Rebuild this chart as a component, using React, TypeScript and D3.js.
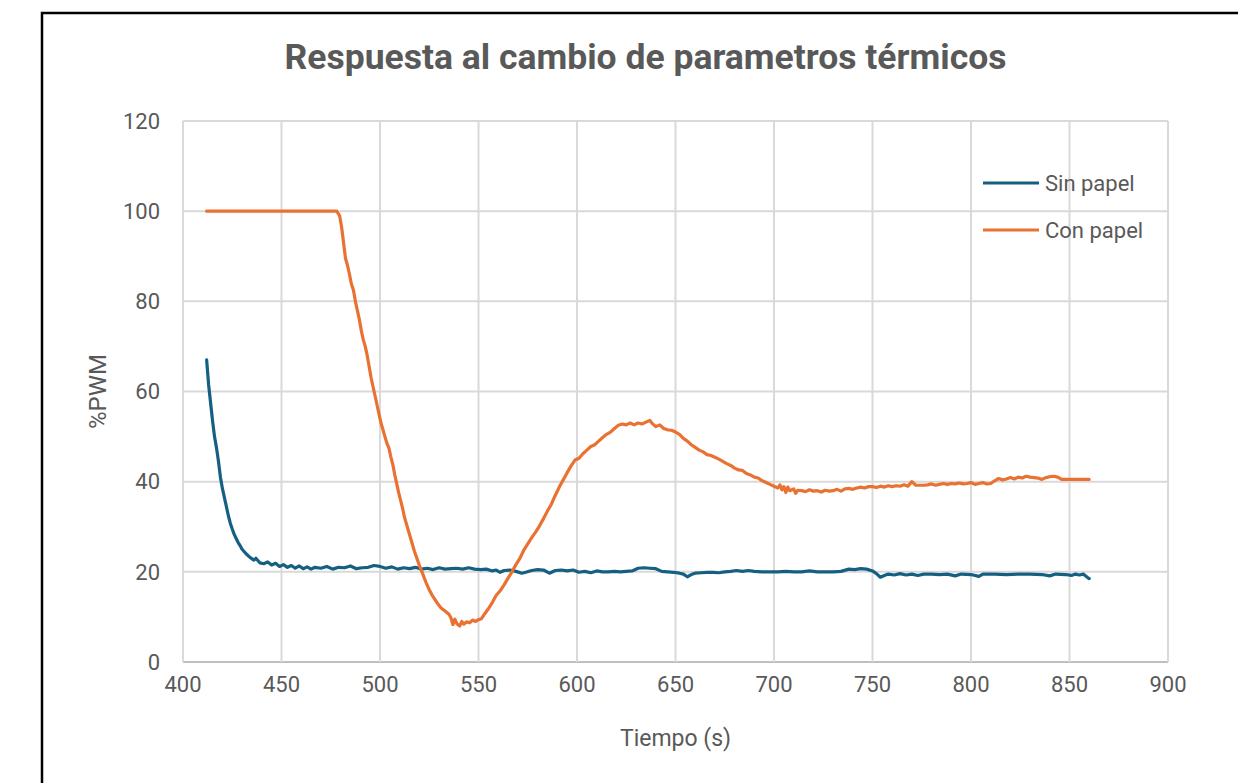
import React from "react";
import * as d3 from "d3";

// Ensayo térmico: %PWM frente al tiempo, sin papel y con papel
const xTicks = [400, 450, 500, 550, 600, 650, 700, 750, 800, 850, 900];
const yTicks = [0, 20, 40, 60, 80, 100, 120];

const sinPapelT = [
  412, 413, 414, 415, 416, 417, 418, 419, 420, 421, 422, 423, 424, 425, 426, 427, 428, 429, 430,
  432, 434, 436, 437, 439, 441, 443, 445, 447, 449, 451, 453, 455, 457, 459, 461, 463, 465, 467,
  470, 473, 476, 479, 482, 485, 488, 491, 494, 497, 500, 503, 506, 509, 512, 515, 518, 521, 524,
  527, 530, 533, 536, 539, 542, 545, 548, 551, 554, 557, 559, 561, 563, 566, 569, 572, 574, 577,
  580, 583, 586, 589, 592, 595, 598, 601, 604, 607, 610, 613, 616, 619, 622, 625, 628, 631, 634,
  637, 640, 643, 646, 649, 652, 654, 656, 658, 660, 663, 666, 669, 672, 675, 678, 681, 684, 687,
  690, 694, 698, 702, 706, 710, 714, 718, 722, 726, 730, 734, 738, 741, 744, 747, 750, 752, 754,
  756, 758, 761, 764, 767, 770, 773, 776, 780, 784, 788, 792, 795, 800, 804, 806, 812, 818, 824,
  830, 836, 840, 843, 848, 851, 853, 855, 857, 859, 860,
];
const sinPapelV = [
  67.0, 61.5, 57.5, 53.5, 50.0, 47.5, 44.5, 41.0, 38.5, 36.5, 34.5, 32.5, 30.8, 29.5, 28.3, 27.4, 26.5, 25.8, 25.0,
  24.0, 23.2, 22.6, 23.0, 22.0, 21.8, 22.2, 21.5, 21.9, 21.2, 21.6, 21.0, 21.4, 20.8, 21.3, 20.7, 21.1, 20.6, 21.0,
  20.8, 21.2, 20.6, 21.0, 20.9, 21.3, 20.7, 20.9, 21.0, 21.4, 21.2, 20.8, 21.1, 20.6, 20.9, 20.7, 21.0, 20.6, 20.8,
  20.5, 20.9, 20.6, 20.7, 20.8, 20.6, 20.9, 20.6, 20.5, 20.6, 20.2, 20.4, 19.9, 20.3, 20.4, 20.1, 19.7, 19.9, 20.3,
  20.5, 20.4, 19.7, 20.3, 20.4, 20.2, 20.4, 19.9, 20.1, 19.8, 20.2, 20.0, 20.0, 20.1, 20.0, 20.1, 20.2, 20.8, 20.9,
  20.8, 20.7, 20.1, 20.0, 19.9, 19.7, 19.5, 18.9, 19.4, 19.7, 19.8, 19.9, 19.9, 19.8, 20.0, 20.1, 20.3, 20.1, 20.3,
  20.1, 20.0, 20.0, 20.0, 20.1, 20.0, 20.0, 20.2, 20.0, 20.0, 20.0, 20.1, 20.6, 20.5, 20.7, 20.6, 20.2, 19.6, 18.8,
  19.2, 19.5, 19.3, 19.6, 19.3, 19.5, 19.2, 19.5, 19.5, 19.4, 19.5, 19.1, 19.5, 19.4, 19.0, 19.5, 19.5, 19.4, 19.5,
  19.5, 19.4, 19.1, 19.5, 19.4, 19.2, 19.5, 19.3, 19.5, 18.8, 18.5,
];

const conPapelT = [
  412, 420, 430, 440, 450, 460, 470, 478, 479.5, 480.5, 481.5, 482.5, 483.5, 484.5, 485.5, 486.5, 487.5,
  488.5, 489.5, 490.5, 491.5, 492.5, 493.5, 494.5, 495.5, 496.5, 497.5, 498.5, 499.5, 500.5, 501.5, 502.5,
  503.5, 504.5, 505.5, 506.5, 507.5, 508.5, 509.5, 510.5, 511.5, 512.5, 513.5, 514.5, 515.5, 516.5, 517.5,
  518.5, 519.5, 520.5, 521.5, 522.5, 523.5, 525, 526.5, 528, 529.5, 531, 533, 535, 536, 537, 538, 539, 540.5,
  541.5, 542.5, 544, 545.5, 547, 548.5, 550, 551.5, 553, 555, 557, 559, 561, 563, 565, 567, 569, 571, 573,
  575, 577, 579, 581, 583, 585, 587, 589, 591, 593, 595, 597, 599, 601, 603, 605, 607, 609, 611, 613, 615,
  617, 619, 621, 623, 625, 627, 629, 631, 633, 635, 637, 638, 640, 642, 644, 646, 648, 650, 652, 654, 656,
  658, 660, 662, 664, 666, 668, 670, 672, 674, 676, 678, 680, 682, 684, 686, 688, 690, 692, 694, 696, 698,
  700, 702, 703, 704, 705, 706, 707, 708, 710, 711, 712, 714, 716, 718, 720, 722, 724, 726, 728, 730, 732,
  734, 736, 738, 740, 742, 744, 746, 748, 750, 752, 754, 756, 758, 760, 762, 764, 766, 768, 770, 772, 774,
  776, 778, 780, 782, 784, 786, 788, 790, 792, 794, 796, 798, 800, 802, 804, 806, 808, 810, 812, 814, 816,
  818, 820, 822, 824, 826, 828, 830, 832, 834, 836, 838, 840, 842, 844, 846, 850, 855, 860,
];
const conPapelV = [
  100, 100, 100, 100, 100, 100, 100, 100, 99.0, 96.5, 93.0, 89.5, 88.0, 86.0, 83.8, 82.5, 80.0,
  78.0, 76.0, 73.5, 71.5, 70.0, 68.0, 65.5, 63.0, 61.0, 59.0, 57.0, 55.0, 53.0, 51.5, 50.0,
  48.5, 47.5, 45.5, 43.8, 41.5, 39.5, 37.5, 35.8, 34.0, 32.0, 30.5, 29.0, 27.5, 26.0, 24.5,
  23.3, 22.0, 20.8, 19.8, 18.6, 17.5, 16.0, 14.8, 13.8, 12.8, 12.0, 11.3, 10.6, 9.8, 8.3, 9.5, 8.5, 8.0,
  9.0, 8.4, 8.9, 8.7, 9.3, 9.0, 9.4, 9.6, 10.6, 11.8, 13.2, 14.8, 15.8, 17.1, 18.6, 20.0, 21.6, 23.0, 24.8,
  26.2, 27.6, 28.8, 30.2, 31.8, 33.5, 35.0, 37.0, 38.8, 40.4, 42.0, 43.5, 44.8, 45.2, 46.2, 47.0, 47.8, 48.2, 49.0, 49.8, 50.5,
  51.0, 51.8, 52.5, 52.8, 52.6, 53.0, 52.6, 53.0, 52.8, 53.2, 53.6, 53.0, 52.2, 52.6, 51.8, 51.5, 51.4, 51.0, 50.5, 49.6, 49.0,
  48.2, 47.6, 47.0, 46.6, 46.0, 45.8, 45.4, 45.0, 44.5, 44.0, 43.6, 43.0, 42.6, 42.5, 41.8, 41.5, 41.0, 40.8, 40.2, 39.8, 39.4,
  39.0, 38.6, 39.3, 38.2, 38.9, 37.6, 38.8, 38.0, 38.4, 37.4, 38.1, 38.0, 37.8, 38.2, 37.9, 38.0, 37.7, 38.1, 37.9, 38.0, 38.3,
  37.9, 38.4, 38.5, 38.3, 38.6, 38.8, 38.6, 38.9, 38.9, 38.7, 39.0, 38.8, 39.1, 38.9, 39.1, 39.0, 39.3, 39.0, 40.0, 39.2, 39.2,
  39.2, 39.3, 39.5, 39.2, 39.4, 39.6, 39.4, 39.6, 39.5, 39.7, 39.5, 39.6, 39.8, 39.4, 39.6, 39.8, 39.5, 39.6, 40.2, 40.7, 40.4,
  40.6, 40.9, 40.6, 41.0, 40.8, 41.2, 41.0, 40.9, 40.8, 40.5, 40.9, 41.1, 41.2, 41.0, 40.5, 40.5, 40.5, 40.5,
];

const seriesNames = ["Sin papel", "Con papel"];
const seriesColors = ["#156082", "#E97132"];

const W = 1238;
const H = 783;
const plot = { left: 183, right: 1168, top: 121, bottom: 662 };
const FONT = "Roboto, 'Open Sans', sans-serif";
const TEXT = "#595959";

export default function App() {
  const x = d3.scaleLinear().domain([400, 900]).range([plot.left, plot.right]);
  const y = d3.scaleLinear().domain([0, 120]).range([plot.bottom, plot.top]);

  const line = d3
    .line<[number, number]>()
    .x((d) => x(d[0]))
    .y((d) => y(d[1]));

  const series = [
    sinPapelT.map((t, i) => [t, sinPapelV[i]] as [number, number]),
    conPapelT.map((t, i) => [t, conPapelV[i]] as [number, number]),
  ];

  return (
    <svg
      width={W}
      height={H}
      style={{ position: "absolute", left: 0, top: 0, background: "#fff" }}
      fontFamily={FONT}
    >
      <rect x={0} y={0} width={W} height={H} fill="#fff" />
      <rect x={42} y={13} width={1300} height={900} fill="#fff" stroke="#000" strokeWidth={2.5} />

      <text
        x={645.5}
        y={69}
        textAnchor="middle"
        fontSize={35.5}
        fontWeight={700}
        fill={TEXT}
      >
        Respuesta al cambio de parametros térmicos
      </text>

      {/* cuadrícula */}
      {yTicks.map((t) => (
        <line
          key={"gy" + t}
          x1={plot.left}
          x2={plot.right}
          y1={y(t)}
          y2={y(t)}
          stroke={t === 0 ? "#bfbfbf" : "#d9d9d9"}
          strokeWidth={2}
        />
      ))}
      {xTicks.map((t) => (
        <line
          key={"gx" + t}
          x1={x(t)}
          x2={x(t)}
          y1={plot.top}
          y2={plot.bottom}
          stroke="#d9d9d9"
          strokeWidth={2}
        />
      ))}

      {/* etiquetas de ejes */}
      {yTicks.map((t) => (
        <text
          key={"ly" + t}
          x={plot.left - 23}
          y={y(t)}
          dy="0.35em"
          textAnchor="end"
          fontSize={22}
          fill={TEXT}
        >
          {t}
        </text>
      ))}
      {xTicks.map((t) => (
        <text
          key={"lx" + t}
          x={x(t)}
          y={plot.bottom + 14}
          dy="0.71em"
          textAnchor="middle"
          fontSize={22}
          fill={TEXT}
        >
          {t}
        </text>
      ))}

      <text
        x={(plot.left + plot.right) / 2}
        y={746}
        textAnchor="middle"
        fontSize={23}
        fill={TEXT}
      >
        Tiempo (s)
      </text>
      <text
        transform={`translate(106, ${(plot.top + plot.bottom) / 2}) rotate(-90)`}
        textAnchor="middle"
        fontSize={24}
        fill={TEXT}
      >
        %PWM
      </text>

      {/* series */}
      {series.map((s, i) => (
        <path
          key={"s" + i}
          d={line(s) || ""}
          fill="none"
          stroke={seriesColors[i]}
          strokeWidth={3.2}
          strokeLinejoin="round"
          strokeLinecap="round"
        />
      ))}

      {/* leyenda */}
      {seriesNames.map((name, i) => (
        <g key={"lg" + i} transform={`translate(983, ${183 + i * 47})`}>
          <line x1={0} x2={56} y1={0} y2={0} stroke={seriesColors[i]} strokeWidth={3.2} />
          <text x={62} y={0} dy="0.35em" fontSize={22} fill={TEXT}>
            {name}
          </text>
        </g>
      ))}
    </svg>
  );
}
